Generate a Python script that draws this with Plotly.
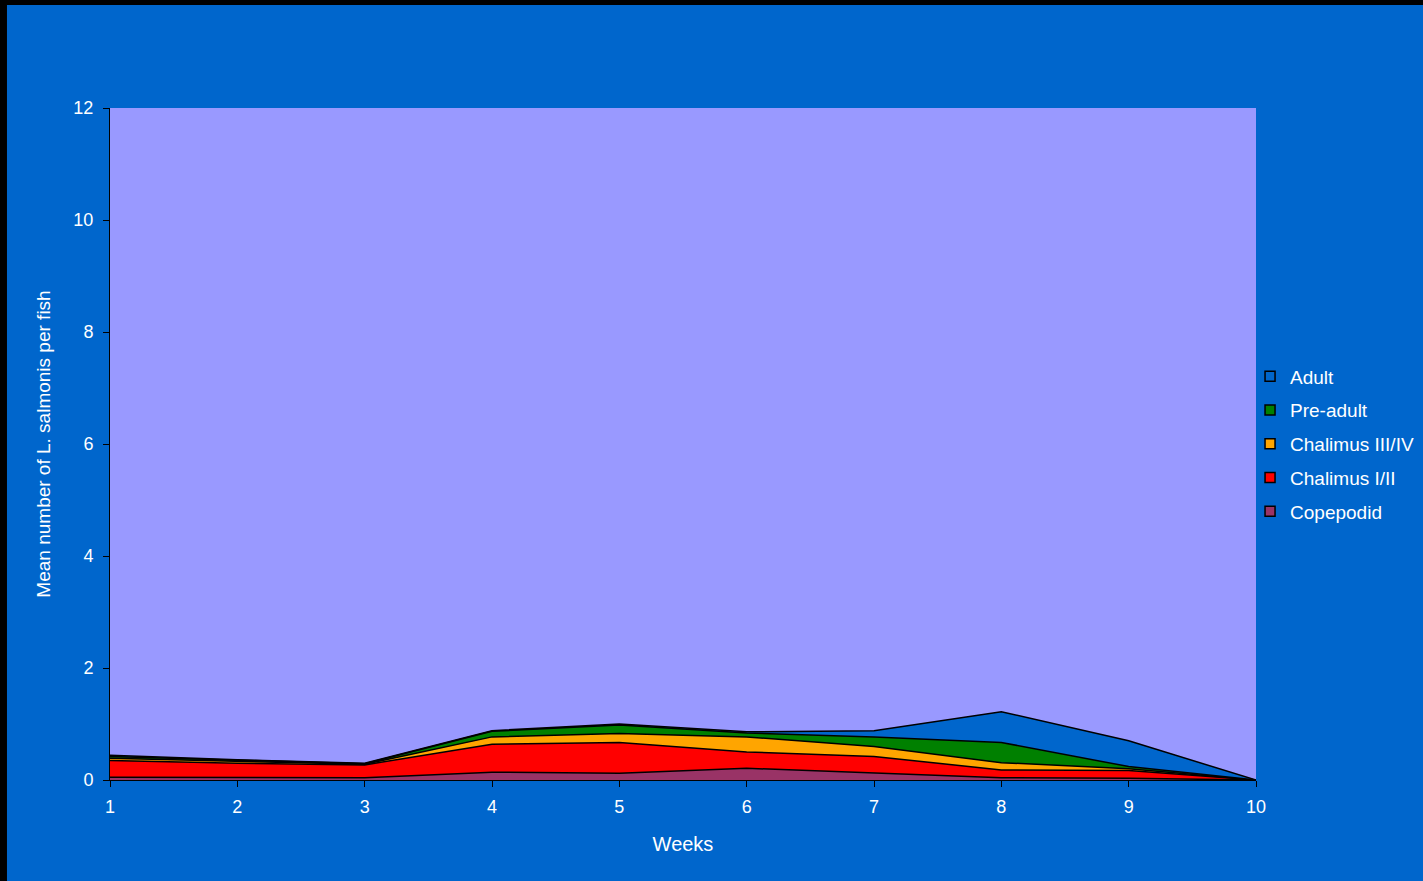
import plotly.graph_objects as go

weeks = [1, 2, 3, 4, 5, 6, 7, 8, 9, 10]
copepodid = [0.05, 0.05, 0.04, 0.14, 0.12, 0.21, 0.13, 0.04, 0.03, 0.0]
chalimus_1_2 = [0.30, 0.25, 0.23, 0.50, 0.55, 0.29, 0.29, 0.14, 0.14, 0.0]
chalimus_3_4 = [0.04, 0.03, 0.01, 0.13, 0.16, 0.27, 0.18, 0.13, 0.03, 0.0]
pre_adult = [0.03, 0.02, 0.01, 0.10, 0.15, 0.07, 0.17, 0.36, 0.04, 0.0]
adult = [0.02, 0.01, 0.01, 0.01, 0.02, 0.02, 0.11, 0.55, 0.46, 0.0]

series = [
    ("Copepodid", copepodid, "#993366"),
    ("Chalimus I/II", chalimus_1_2, "#FF0000"),
    ("Chalimus III/IV", chalimus_3_4, "#FFA500"),
    ("Pre-adult", pre_adult, "#008000"),
    ("Adult", adult, "#0066CC"),
]

fig = go.Figure()
# stacked areas, bottom to top
for name, vals, color in series:
    fig.add_trace(go.Scatter(
        x=weeks, y=vals, name=name, mode="lines",
        stackgroup="lice", fillcolor=color,
        line=dict(color="black", width=1.5),
        showlegend=False,
    ))
# square legend keys, listed top stage first
for i, (name, vals, color) in enumerate(reversed(series)):
    fig.add_trace(go.Scatter(
        x=[None], y=[None], name=name, mode="markers",
        marker=dict(symbol="square", size=10, color=color,
                    line=dict(color="black", width=1.5)),
        legendgroup=f"g{i}",
    ))

family = "Liberation Sans, Arial, sans-serif"

fig.update_layout(
    width=1423, height=881,
    margin=dict(l=110, r=167, t=108, b=101, autoexpand=False),
    paper_bgcolor="#0066CC",
    plot_bgcolor="#9999FF",
    font=dict(family=family, color="white"),
    showlegend=True,
    legend=dict(
        traceorder="grouped",
        x=0.9948, y=0.5, xanchor="left", yanchor="middle",
        font=dict(size=19, family=family, color="white"),
        bgcolor="rgba(0,0,0,0)",
        itemwidth=30, tracegroupgap=6,
    ),
    xaxis=dict(
        range=[1, 10], tickmode="array", tickvals=weeks,
        showgrid=False, zeroline=False,
        showline=True, linecolor="black", linewidth=1,
        ticks="outside", tickcolor="black", ticklen=6,
        ticklabelstandoff=4,
        tickfont=dict(size=18, color="white"),
        title=dict(text="Weeks", font=dict(size=20, color="white"), standoff=21),
    ),
    yaxis=dict(
        range=[0, 12], tickvals=[0, 2, 4, 6, 8, 10, 12],
        showgrid=False, zeroline=False,
        showline=True, linecolor="black", linewidth=1,
        ticks="outside", tickcolor="black", ticklen=6,
        ticklabelstandoff=6,
        tickfont=dict(size=18, color="white"),
        title=dict(text="Mean number of L. salmonis per fish",
                   font=dict(size=19, color="white"), standoff=17),
    ),
    shapes=[
        dict(type="rect", xref="paper", yref="paper",
             x0=-0.1, x1=1.2, y0=1.1533, y1=1.17,
             fillcolor="black", line=dict(width=0), layer="above"),
        dict(type="rect", xref="paper", yref="paper",
             x0=-0.1, x1=-0.0899, y0=-0.16, y1=1.17,
             fillcolor="black", line=dict(width=0), layer="above"),
    ],
)

fig.write_html("out.html")
